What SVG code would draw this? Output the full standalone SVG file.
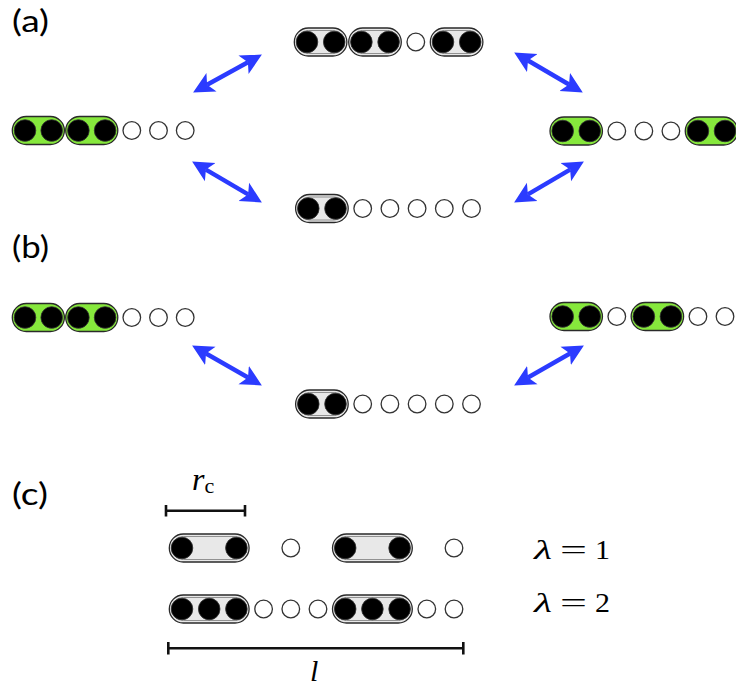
<svg xmlns="http://www.w3.org/2000/svg" width="736" height="688" viewBox="0 0 736 688">
  <style>
    .green { fill: #86e83c; stroke: #2a2a2a; stroke-width: 1.3; }
    .gray { fill: #e8e8e8; stroke: #2a2a2a; stroke-width: 1.3; }
    .inner { fill: none; stroke: #7a7a7a; stroke-width: 0.8; }
    .full { fill: #000; stroke: #333; stroke-width: 0.8; }
    .empty { fill: #fff; stroke: #333; stroke-width: 1.3; }
    .arrow { stroke: #2b3bff; stroke-width: 4.4; fill: none; marker-start: url(#head); marker-end: url(#head); }
    .bar { stroke: #111; stroke-width: 2.6; fill: none; }
    .panel { font-family: Lato, "Open Sans", sans-serif; font-size: 30px; fill: #000; }
    .math { font-family: "Liberation Serif", "Times New Roman", "DejaVu Serif", serif; fill: #000; }
  </style>
  <defs>
    <marker id="head" viewBox="0 -11 23 22" refX="5" refY="0" markerWidth="23" markerHeight="22"
            markerUnits="userSpaceOnUse" orient="auto-start-reverse">
      <path d="M21,0 L0,-10.5 L5,0 L0,10.5 Z" fill="#2b3bff"/>
    </marker>
  </defs>

  <!-- panel labels -->
  <text class="panel" x="12" y="32" textLength="37" lengthAdjust="spacingAndGlyphs">(a)</text>
  <text class="panel" x="12" y="258" textLength="37" lengthAdjust="spacingAndGlyphs">(b)</text>
  <text class="panel" x="12" y="505" textLength="36" lengthAdjust="spacingAndGlyphs">(c)</text>

  <!-- (a) left chain -->
  <g id="a-left">
    <rect class="green" x="12.3" y="116.5" width="52.1" height="28" rx="14"/>
    <rect class="green" x="65.7" y="116.5" width="52.1" height="28" rx="14"/>
    <circle class="full" cx="25" cy="130.5" r="10.8"/>
    <circle class="full" cx="51.7" cy="130.5" r="10.8"/>
    <circle class="full" cx="78.4" cy="130.5" r="10.8"/>
    <circle class="full" cx="105.1" cy="130.5" r="10.8"/>
    <circle class="empty" cx="131.8" cy="130.5" r="8.8"/>
    <circle class="empty" cx="158.5" cy="130.5" r="8.8"/>
    <circle class="empty" cx="185.2" cy="130.5" r="8.8"/>
  </g>

  <!-- (a) top chain -->
  <g id="a-top">
    <rect class="gray" x="294.3" y="28" width="52.6" height="28" rx="14"/>
    <rect class="inner" x="296.8" y="30.5" width="47.6" height="23" rx="11.5"/>
    <rect class="gray" x="348.7" y="28" width="52.6" height="28" rx="14"/>
    <rect class="inner" x="351.2" y="30.5" width="47.6" height="23" rx="11.5"/>
    <rect class="gray" x="430.3" y="28" width="52.6" height="28" rx="14"/>
    <rect class="inner" x="432.8" y="30.5" width="47.6" height="23" rx="11.5"/>
    <circle class="full" cx="307" cy="42" r="10.8"/>
    <circle class="full" cx="334.2" cy="42" r="10.8"/>
    <circle class="full" cx="361.4" cy="42" r="10.8"/>
    <circle class="full" cx="388.6" cy="42" r="10.8"/>
    <circle class="empty" cx="415.8" cy="42" r="8.8"/>
    <circle class="full" cx="443" cy="42" r="10.8"/>
    <circle class="full" cx="470.2" cy="42" r="10.8"/>
  </g>

  <!-- (a) right chain -->
  <g id="a-right">
    <rect class="green" x="550" y="117" width="52.45" height="28" rx="14"/>
    <rect class="green" x="685.25" y="117" width="52.45" height="28" rx="14"/>
    <circle class="full" cx="562.7" cy="131" r="10.8"/>
    <circle class="full" cx="589.75" cy="131" r="10.8"/>
    <circle class="empty" cx="616.8" cy="131" r="8.8"/>
    <circle class="empty" cx="643.85" cy="131" r="8.8"/>
    <circle class="empty" cx="670.9" cy="131" r="8.8"/>
    <circle class="full" cx="697.95" cy="131" r="10.8"/>
    <circle class="full" cx="725" cy="131" r="10.8"/>
  </g>

  <!-- (a) bottom chain -->
  <g id="a-bottom">
    <rect class="gray" x="295.6" y="194.5" width="52.6" height="28" rx="14"/>
    <rect class="inner" x="298.1" y="197" width="47.6" height="23" rx="11.5"/>
    <circle class="full" cx="308.3" cy="208.5" r="10.8"/>
    <circle class="full" cx="335.5" cy="208.5" r="10.8"/>
    <circle class="empty" cx="362.7" cy="208.5" r="8.8"/>
    <circle class="empty" cx="389.9" cy="208.5" r="8.8"/>
    <circle class="empty" cx="417.1" cy="208.5" r="8.8"/>
    <circle class="empty" cx="444.3" cy="208.5" r="8.8"/>
    <circle class="empty" cx="471.5" cy="208.5" r="8.8"/>
  </g>

  <!-- (b) left chain -->
  <g id="b-left">
    <rect class="green" x="12.3" y="303.5" width="52.1" height="28" rx="14"/>
    <rect class="green" x="65.7" y="303.5" width="52.1" height="28" rx="14"/>
    <circle class="full" cx="25" cy="317.5" r="10.8"/>
    <circle class="full" cx="51.7" cy="317.5" r="10.8"/>
    <circle class="full" cx="78.4" cy="317.5" r="10.8"/>
    <circle class="full" cx="105.1" cy="317.5" r="10.8"/>
    <circle class="empty" cx="131.8" cy="317.5" r="8.8"/>
    <circle class="empty" cx="158.5" cy="317.5" r="8.8"/>
    <circle class="empty" cx="185.2" cy="317.5" r="8.8"/>
  </g>

  <!-- (b) right chain -->
  <g id="b-right">
    <rect class="green" x="550" y="302.5" width="52.45" height="28" rx="14"/>
    <rect class="green" x="631.15" y="302.5" width="52.45" height="28" rx="14"/>
    <circle class="full" cx="562.7" cy="316.5" r="10.8"/>
    <circle class="full" cx="589.75" cy="316.5" r="10.8"/>
    <circle class="empty" cx="616.8" cy="316.5" r="8.8"/>
    <circle class="full" cx="643.85" cy="316.5" r="10.8"/>
    <circle class="full" cx="670.9" cy="316.5" r="10.8"/>
    <circle class="empty" cx="697.95" cy="316.5" r="8.8"/>
    <circle class="empty" cx="725" cy="316.5" r="8.8"/>
  </g>

  <!-- (b) bottom chain -->
  <g id="b-bottom">
    <rect class="gray" x="295.6" y="390" width="52.6" height="28" rx="14"/>
    <rect class="inner" x="298.1" y="392.5" width="47.6" height="23" rx="11.5"/>
    <circle class="full" cx="308.3" cy="404" r="10.8"/>
    <circle class="full" cx="335.5" cy="404" r="10.8"/>
    <circle class="empty" cx="362.7" cy="404" r="8.8"/>
    <circle class="empty" cx="389.9" cy="404" r="8.8"/>
    <circle class="empty" cx="417.1" cy="404" r="8.8"/>
    <circle class="empty" cx="444.3" cy="404" r="8.8"/>
    <circle class="empty" cx="471.5" cy="404" r="8.8"/>
  </g>

  <!-- transitions between configurations -->
  <g id="connectors">
    <line class="arrow" x1="207.1" y1="84.7" x2="247.9" y2="62.3"/>
    <line class="arrow" x1="528" y1="60.5" x2="569" y2="84.5"/>
    <line class="arrow" x1="205.9" y1="169.6" x2="248.1" y2="194.4"/>
    <line class="arrow" x1="570.1" y1="169.6" x2="527.9" y2="194.4"/>
    <line class="arrow" x1="206" y1="353.5" x2="248" y2="377.5"/>
    <line class="arrow" x1="570" y1="353.5" x2="528" y2="377.5"/>
  </g>

  <!-- (c) cluster size scale -->
  <g id="rc-bar">
    <path class="bar" d="M166,510.7 H245 M166,505 V516.5 M245,505 V516.5"/>
    <text class="math" x="192" y="490" font-size="32" font-style="italic">r<tspan font-style="normal" font-size="22" dy="3">c</tspan></text>
  </g>

  <!-- (c) lambda = 1 chain -->
  <g id="c-lambda1">
    <rect class="gray" x="169.3" y="534" width="79.8" height="28" rx="14"/>
    <rect class="inner" x="171.8" y="536.5" width="74.8" height="23" rx="11.5"/>
    <rect class="gray" x="332.5" y="534" width="79.8" height="28" rx="14"/>
    <rect class="inner" x="335" y="536.5" width="74.8" height="23" rx="11.5"/>
    <circle class="full" cx="182" cy="548" r="10.8"/>
    <circle class="full" cx="236.4" cy="548" r="10.8"/>
    <circle class="empty" cx="290.8" cy="548" r="8.8"/>
    <circle class="full" cx="345.2" cy="548" r="10.8"/>
    <circle class="full" cx="399.6" cy="548" r="10.8"/>
    <circle class="empty" cx="454" cy="548" r="8.8"/>
    <text class="math" y="559" font-size="28"><tspan x="534" font-style="italic" textLength="18" lengthAdjust="spacingAndGlyphs">λ</tspan><tspan x="560" textLength="27" lengthAdjust="spacingAndGlyphs">=</tspan><tspan x="595" textLength="15" lengthAdjust="spacingAndGlyphs">1</tspan></text>
  </g>

  <!-- (c) lambda = 2 chain -->
  <g id="c-lambda2">
    <rect class="gray" x="169.3" y="595" width="79.8" height="28" rx="14"/>
    <rect class="inner" x="171.8" y="597.5" width="74.8" height="23" rx="11.5"/>
    <rect class="gray" x="332.5" y="595" width="79.8" height="28" rx="14"/>
    <rect class="inner" x="335" y="597.5" width="74.8" height="23" rx="11.5"/>
    <circle class="full" cx="182" cy="609" r="10.8"/>
    <circle class="full" cx="209.2" cy="609" r="10.8"/>
    <circle class="full" cx="236.4" cy="609" r="10.8"/>
    <circle class="empty" cx="263.6" cy="609" r="8.8"/>
    <circle class="empty" cx="290.8" cy="609" r="8.8"/>
    <circle class="empty" cx="318" cy="609" r="8.8"/>
    <circle class="full" cx="345.2" cy="609" r="10.8"/>
    <circle class="full" cx="372.4" cy="609" r="10.8"/>
    <circle class="full" cx="399.6" cy="609" r="10.8"/>
    <circle class="empty" cx="426.8" cy="609" r="8.8"/>
    <circle class="empty" cx="454" cy="609" r="8.8"/>
    <text class="math" y="611.5" font-size="28"><tspan x="534" font-style="italic" textLength="18" lengthAdjust="spacingAndGlyphs">λ</tspan><tspan x="560" textLength="27" lengthAdjust="spacingAndGlyphs">=</tspan><tspan x="595" textLength="15" lengthAdjust="spacingAndGlyphs">2</tspan></text>
  </g>

  <!-- (c) system length -->
  <g id="l-bar">
    <path class="bar" d="M168.3,648.3 H463.3 M168.3,642 V654.6 M463.3,642 V654.6"/>
    <text class="math" x="310" y="681" font-size="30" font-style="italic">l</text>
  </g>
</svg>
